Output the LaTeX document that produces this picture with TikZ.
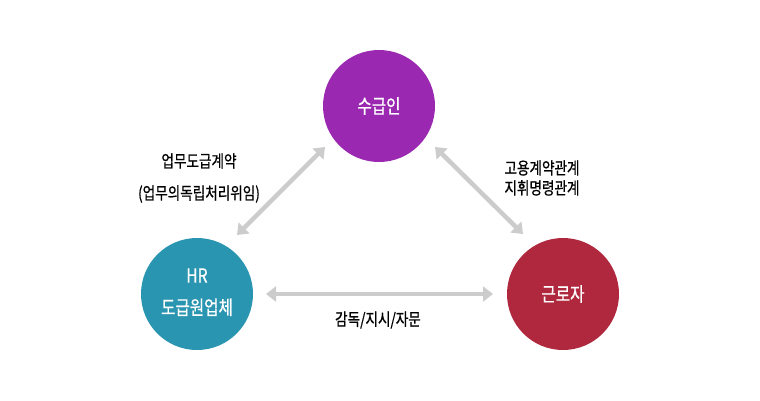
\documentclass[tikz,border=0pt]{standalone}
\usepackage{fontspec}
\setmainfont{Noto Sans CJK KR}[FakeStretch=0.8,FakeBold=0.7]
\usetikzlibrary{arrows.meta}
\definecolor{contractor}{HTML}{9A28B0}
\definecolor{hrfirm}{HTML}{2A95B0}
\definecolor{worker}{HTML}{B0283E}
\definecolor{linkgray}{HTML}{CCCCCC}
\tikzset{
  party/.style={circle,fill,minimum size=112pt,inner sep=0pt,text=white,align=center,
    font=\fontsize{19.5}{32}\selectfont},
  relation/.style={line width=4.5pt,draw=linkgray,
    {Triangle[width=15pt,length=10pt]}-{Triangle[width=15pt,length=10pt]}},
  note/.style={align=center,text=black}
}

\begin{document}
\begin{tikzpicture}[x=1pt,y=-1pt]
  \useasboundingbox (0,0) rectangle (760,400);
  % the three parties
  \node[party,fill=contractor] (sugeub) at (379,106) {수급인};
  \node[party,fill=hrfirm] (hr) at (197,294) {\raisebox{5pt}{HR}\\\raisebox{5pt}{도급원업체}};
  \node[party,fill=worker] (worker) at (563,294) {근로자};
  % arrow ends
  \coordinate (hrA) at (237,235);
  \coordinate (sgA) at (325,147);
  \coordinate (sgB) at (435,147);
  \coordinate (wkB) at (523,234);
  \coordinate (hrC) at (266,294);
  \coordinate (wkC) at (493,294);
  \draw[relation] (hrA) -- (sgA);
  \draw[relation] (sgB) -- (wkB);
  \draw[relation] (hrC) -- (wkC);
  % labels
  \node[note,font=\fontsize{17}{32}\selectfont] (contract) at (199,178) {업무도급계약\\(업무의독립처리위임)};
  \node[note,font=\fontsize{17}{20}\selectfont] (employ) at (542,178) {고용계약관계\\지휘명령관계};
  \node[note,font=\fontsize{17}{16}\selectfont] (supervise) at (378,320) {감독/지시/자문};
\end{tikzpicture}
\end{document}
